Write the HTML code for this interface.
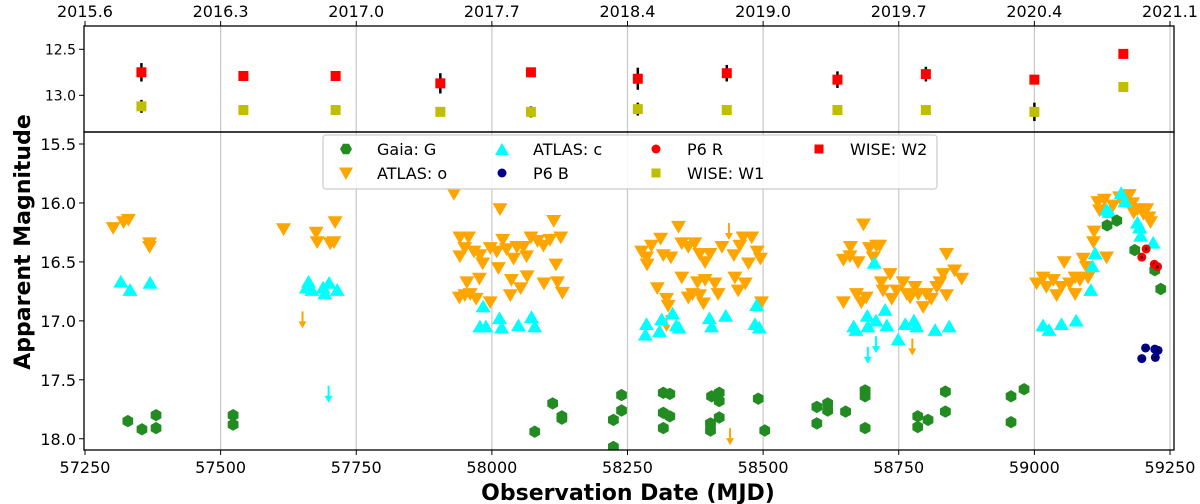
<!DOCTYPE html>
<html><head><meta charset="utf-8"><style>
html,body{margin:0;padding:0;background:#fff;}
svg{display:block;font-family:"DejaVu Sans","Liberation Sans",sans-serif;}
</style></head><body>
<svg id="chart" width="1200" height="504" viewBox="0 0 1200 504" xmlns="http://www.w3.org/2000/svg"></svg>
<script>
// ---- data ----
const xTicks = [57250,57500,57750,58000,58250,58500,58750,59000,59250];
const yearLabels = ["2015.6","2016.3","2017.0","2017.7","2018.4","2019.0","2019.7","2020.4","2021.1"];
const yTicksTop = [12.5,13.0];
const yTicksBot = [15.5,16.0,16.5,17.0,17.5,18.0];

const w2Mjd = [57354,57542,57712,57905,58072,58269,58433,58637,58800,59000,59164];
const w2Mag = [12.75,12.79,12.79,12.87,12.75,12.82,12.76,12.83,12.77,12.83,12.55];
const w2Err = [0.10,0.04,0.04,0.11,0,0.12,0.09,0.09,0.08,0,0];
const w1Mjd = [57354,57542,57712,57905,58072,58269,58433,58637,58800,59000,59164];
const w1Mag = [13.12,13.16,13.16,13.18,13.18,13.15,13.16,13.16,13.16,13.18,12.91];
const w1Err = [0.07,0,0,0,0.06,0.07,0,0.05,0,0.10,0];

const gaiaMjd = [57329,57355,57381,57381,57523,57523,58112,58129,58129,58079,58239,58239,58224,58224,58316,58328,58316,58328,58316,58405,58419,58419,58419,58403,58403,58491,58503,58599,58599,58619,58619,58652,58688,58688,58688,58785,58785,58804,58836,58836,58957,58957,58981,59134,59152,59185,59222,59233];
const gaiaMag = [17.85,17.92,17.80,17.91,17.80,17.88,17.70,17.81,17.83,17.94,17.63,17.76,17.84,18.07,17.61,17.62,17.78,17.81,17.91,17.64,17.61,17.68,17.82,17.87,17.93,17.66,17.93,17.73,17.87,17.70,17.76,17.77,17.59,17.64,17.91,17.81,17.90,17.84,17.60,17.77,17.64,17.86,17.58,16.19,16.15,16.40,16.57,16.73];

const oMjd = [57302,57321,57330,57369,57369,57616,57676,57678,57702,57709,57711,57930,58015,58114,57941,57957,57950,57941,57967,57978,57983,57997,58009,58020,58027,58040,58046,58058,58064,58072,58084,58095,58107,58127,58118,58012,57977,57954,58036,58053,58065,58096,58121,58130,57940,57950,57960,57971,57997,58034,
58276,58285,58286,58294,58311,58316,58330,58344,58350,58362,58374,58383,58393,58402,58424,58446,58457,58463,58479,58473,58489,58495,58305,58322,58325,58350,58362,58370,58379,58383,58390,58393,58411,58417,58448,58454,58467,58497,
58648,58661,58660,58675,58685,58696,58703,58709,58715,58648,58672,58681,58690,58718,58721,58734,58737,58746,58758,58765,58771,58780,58786,58795,58801,58810,58820,58826,58832,58838,58853,58866,58838,
59004,59016,59022,59035,59041,59050,59055,59065,59075,59075,59084,59090,59096,59099,59110,59109,59133,59117,59120,59129,59145,59157,59175,59181,59190,59199,59207,59211,59214,59201,59183];
const oMag = [16.21,16.16,16.14,16.34,16.37,16.22,16.25,16.33,16.34,16.33,16.16,15.92,16.05,16.15,16.29,16.29,16.38,16.45,16.41,16.44,16.51,16.38,16.41,16.31,16.39,16.47,16.37,16.37,16.45,16.29,16.32,16.36,16.31,16.29,16.52,16.55,16.64,16.67,16.65,16.72,16.62,16.68,16.67,16.76,16.80,16.78,16.77,16.81,16.84,16.78,
16.41,16.46,16.52,16.36,16.30,16.44,16.46,16.20,16.34,16.37,16.34,16.43,16.50,16.43,16.37,16.44,16.36,16.29,16.29,16.51,16.41,16.47,16.72,16.81,16.87,16.63,16.80,16.77,16.67,16.78,16.85,16.65,16.68,16.77,16.63,16.74,16.68,16.84,
16.48,16.37,16.45,16.50,16.18,16.38,16.46,16.36,16.36,16.84,16.77,16.84,16.80,16.67,16.74,16.60,16.81,16.74,16.67,16.77,16.80,16.71,16.77,16.88,16.77,16.81,16.71,16.67,16.60,16.43,16.57,16.64,16.78,
16.68,16.63,16.71,16.65,16.78,16.71,16.50,16.68,16.63,16.77,16.65,16.47,16.54,16.63,16.24,16.33,16.46,15.99,16.06,15.97,16.02,15.95,15.93,16.00,16.05,16.06,16.05,16.12,16.16,16.09,16.08];

const cMjd = [57316,57333,57370,57662,57658,57668,57689,57692,57700,57715,57984,57978,57989,58014,58018,58049,58073,58079,58283,58285,58309,58313,58333,58340,58345,58401,58405,58431,58488,58485,58493,58667,58671,58692,58693,58708,58725,58728,58749,58762,58778,58783,58817,58843,58705,59016,59027,59050,59077,59104,59107,59112,59133,59138,59160,59167,59190,59194,59196,59219];
const cMag = [16.67,16.74,16.68,16.67,16.72,16.74,16.72,16.77,16.68,16.74,16.88,17.05,17.05,16.98,17.06,17.04,16.97,17.05,17.12,17.03,17.09,16.99,16.94,17.04,17.06,16.98,17.05,16.96,16.87,17.03,17.06,17.05,17.08,16.96,17.05,17.00,16.91,17.04,17.16,17.03,17.00,17.05,17.08,17.05,16.51,17.04,17.08,17.03,17.00,16.74,16.54,16.43,16.06,16.08,15.92,15.99,16.17,16.21,16.28,16.34];

const p6rMjd = [59198,59206,59221,59227];
const p6rMag = [16.46,16.39,16.52,16.54];
const p6bMjd = [59198,59205,59222,59228,59223];
const p6bMag = [17.32,17.23,17.24,17.25,17.31];

const oLimMjd = [57651,58322,58437,58439,58775];
const oLimMag = [16.92,16.95,16.17,17.91,17.15];
const cLimMjd = [57699,58693,58708];
const cLimMag = [17.55,17.22,17.13];

// ---- axes ----
const X0=85, X1=1170, L=84, R=1174;
const x = m => X0 + (m-57250)*(X1-X0)/2000;
const TT=26, TB=132, BT=132, BB=450;
const yT = v => 49.3 + (v-12.5)*92;
const yB = v => 144 + (v-15.5)*117.9;

const svg = document.getElementById('chart');
const NS='http://www.w3.org/2000/svg';
function mk(tag, attrs, parent){const e=document.createElementNS(NS,tag);for(const k in attrs)e.setAttribute(k,attrs[k]);(parent||svg).appendChild(e);return e;}

// clip paths
const defs=mk('defs',{});
const cp1=mk('clipPath',{id:'cpT'},defs); mk('rect',{x:L,y:TT,width:R-L,height:TB-TT},cp1);
const cp2=mk('clipPath',{id:'cpB'},defs); mk('rect',{x:L,y:BT,width:R-L,height:BB-BT},cp2);

// grid lines
const grid=mk('g',{});


xTicks.forEach(t=>{ if(t>57250){ const l=mk('line',{x1:x(t),x2:x(t),y1:TT,y2:BB,stroke:'#c8c8c8','stroke-width':1.2},grid);
  
   }});

const gT=mk('g',{'clip-path':'url(#cpT)'});


const gB=mk('g',{'clip-path':'url(#cpB)'});



function tri(cx,cy,down,fill,g,s){
  s=s||7.5;
  const p = down ? `${cx-s},${cy-s*0.75} ${cx+s},${cy-s*0.75} ${cx},${cy+s*0.95}` : `${cx-s},${cy+s*0.75} ${cx+s},${cy+s*0.75} ${cx},${cy-s*0.95}`;
  return mk('polygon',{points:p,fill:fill},g);
}
function hex(cx,cy,fill,g){
  const r=6.2;let p=[];for(let i=0;i<6;i++){const a=Math.PI/6+i*Math.PI/3;p.push((cx+r*Math.cos(a)).toFixed(1)+','+(cy+r*Math.sin(a)).toFixed(1));}
  return mk('polygon',{points:p.join(' '),fill:fill},g);
}
function arrow(cx,cy,col,g){
  const a=mk('g',{},g);
  mk('line',{x1:cx,x2:cx,y1:cy,y2:cy+14,stroke:col,'stroke-width':2},a);
  mk('polygon',{points:`${cx-4},${cy+10} ${cx+4},${cy+10} ${cx},${cy+17}`,fill:col},a);
  return a;
}

// top panel: WISE
w2Mjd.forEach((m,i)=>{ if(w2Err[i]>0){const e=mk('line',{x1:x(m),x2:x(m),y1:yT(w2Mag[i]-w2Err[i]),y2:yT(w2Mag[i]+w2Err[i]),stroke:'#000','stroke-width':2.5},gT);
  
  }
  const r=mk('rect',{x:x(m)-5,y:yT(w2Mag[i])-5,width:10,height:10,fill:'#ff0000'},gT);
  
  });
w1Mjd.forEach((m,i)=>{ if(w1Err[i]>0){const e=mk('line',{x1:x(m),x2:x(m),y1:yT(w1Mag[i]-w1Err[i]),y2:yT(w1Mag[i]+w1Err[i]),stroke:'#000','stroke-width':2.5},gT);
  
  }
  const r=mk('rect',{x:x(m)-5,y:yT(w1Mag[i])-5,width:10,height:10,fill:'#bfbf00'},gT);
  
  });

// bottom panel
oMjd.forEach((m,i)=>{const t=tri(x(m),yB(oMag[i]),true,'#ffa500',gB);
  
  });
oLimMjd.forEach((m,i)=>{const a=arrow(x(m),yB(oLimMag[i]),'#ffa500',gB);
  
  });
cMjd.forEach((m,i)=>{const t=tri(x(m),yB(cMag[i]),false,'#00ffff',gB);
  
  });
cLimMjd.forEach((m,i)=>{const a=arrow(x(m),yB(cLimMag[i]),'#00ffff',gB);
  
  });
gaiaMjd.forEach((m,i)=>{const h=hex(x(m),yB(gaiaMag[i]),'#228b22',gB);
  
  });
p6rMjd.forEach((m,i)=>{const c=mk('circle',{cx:x(m),cy:yB(p6rMag[i]),r:4.5,fill:'#ff0000'},gB);
  
  
  mk('rect',{x:x(m)-1,y:yB(p6rMag[i])-1.5,width:2,height:3,fill:'#000'},gB);});
p6bMjd.forEach((m,i)=>{const c=mk('circle',{cx:x(m),cy:yB(p6bMag[i]),r:4.5,fill:'#00008b'},gB);
  
  
  mk('rect',{x:x(m)-1,y:yB(p6bMag[i])-1.5,width:2,height:3,fill:'#000'},gB);});

// frames
const f1=mk('rect',{x:L,y:TT,width:R-L,height:TB-TT,fill:'none',stroke:'#000','stroke-width':1.3});


const f2=mk('rect',{x:L,y:BT,width:R-L,height:BB-BT,fill:'none',stroke:'#000','stroke-width':1.3});



// x ticks bottom + top year labels
xTicks.forEach((t,i)=>{
  mk('line',{x1:x(t),x2:x(t),y1:BB,y2:BB+5,stroke:'#000','stroke-width':1});
  const tx=mk('text',{x:x(t),y:BB+23,'font-size':16,'text-anchor':'middle',fill:'#000'}); tx.textContent=t;
  
  
  mk('line',{x1:x(t),x2:x(t),y1:TT,y2:TT-5,stroke:'#000','stroke-width':1});
  const ty=mk('text',{x:x(t),y:TT-9,'font-size':16,'text-anchor':'middle',fill:'#000'}); ty.textContent=yearLabels[i];
  
  
});
yTicksTop.forEach(v=>{
  mk('line',{x1:L-5,x2:L,y1:yT(v),y2:yT(v),stroke:'#000','stroke-width':1});
  const t=mk('text',{x:L-8,y:yT(v)+5,'font-size':14,'text-anchor':'end',fill:'#000'}); t.textContent=v.toFixed(1);
  
  
});
yTicksBot.forEach(v=>{
  mk('line',{x1:L-5,x2:L,y1:yB(v),y2:yB(v),stroke:'#000','stroke-width':1});
  const t=mk('text',{x:L-8,y:yB(v)+6,'font-size':16,'text-anchor':'end',fill:'#000'}); t.textContent=v.toFixed(1);
  
  
});
</script>
<svg style="position:absolute;left:0;top:0" width="1200" height="504" xmlns="http://www.w3.org/2000/svg" font-family="DejaVu Sans, Liberation Sans, sans-serif">
  <text x="0" y="0" transform="translate(30,242) rotate(-90)" font-size="22" font-weight="bold" text-anchor="middle">Apparent Magnitude</text>
  <text x="628" y="500" font-size="22" font-weight="bold" text-anchor="middle">Observation Date (MJD)</text>
  <g>
    <rect x="323" y="135" width="614" height="54" rx="3" fill="#fff" fill-opacity="0.85" stroke="#ccc" stroke-width="1.2"/>
    <g>
      <polygon points="352,149 349,154.2 343,154.2 340,149 343,143.8 349,143.8" fill="#228b22" transform="translate(0,0)"/>
      <text x="377" y="155" font-size="16">Gaia: G</text></g>
    <g>
      <polygon points="339,167.5 353,167.5 346,180" fill="#ffa500"/>
      <text x="377" y="179" font-size="16">ATLAS: o</text></g>
    <g>
      <polygon points="495,155 509,155 502,143" fill="#00ffff"/>
      <text x="533" y="155" font-size="16">ATLAS: c</text></g>
    <g>
      <circle cx="502" cy="173" r="4.5" fill="#00008b"/>
      <text x="533" y="179" font-size="16">P6 B</text></g>
    <g>
      <circle cx="656" cy="149" r="4.5" fill="#ff0000"/>
      <text x="687" y="155" font-size="16">P6 R</text></g>
    <g>
      <rect x="651.5" y="168.5" width="9" height="9" fill="#bfbf00"/>
      <text x="687" y="179" font-size="16">WISE: W1</text></g>
    <g>
      <rect x="814.5" y="144.5" width="9" height="9" fill="#ff0000"/>
      <text x="850" y="155" font-size="16">WISE: W2</text></g>
  </g>
</svg>
</body></html>
